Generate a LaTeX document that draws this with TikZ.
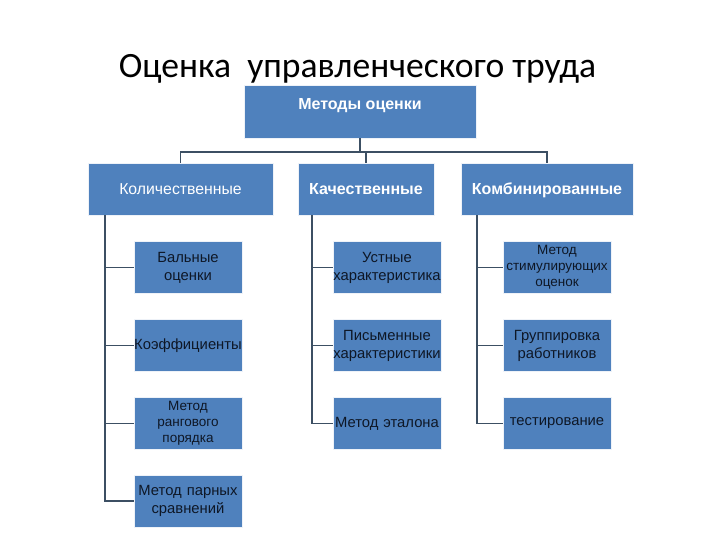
\documentclass[tikz,border=0pt]{standalone}
\usepackage{fontspec}
\setmainfont{Liberation Sans}
\newfontfamily\titlefont{Carlito}
\usetikzlibrary{positioning,calc}
\definecolor{cBoxF}{HTML}{4F81BD}
\definecolor{cBoxL}{HTML}{EEF2F8}
\definecolor{cWire}{HTML}{3C4F63}
\definecolor{cItemT}{HTML}{0E1726}
\tikzset{
  mbox/.style={rectangle,fill=cBoxF,draw=cBoxL,line width=0.4pt,inner sep=0pt,
      align=center},
  mtop/.style={mbox,minimum width=232pt,minimum height=53pt},
  mtoptxt/.style={font=\bfseries\fontsize{16}{18}\selectfont,text=white,inner sep=0pt},
  mcat/.style={mbox,minimum height=52pt,text depth=0pt,text=white,
      font=\fontsize{15.8}{18}\selectfont},
  mcatb/.style={mcat,font=\bfseries\fontsize{16}{18}\selectfont},
  mitem/.style={mbox,minimum width=108pt,minimum height=52pt,text width=108pt,
      text=cItemT,font=\fontsize{14.8}{18}\selectfont},
  mitems/.style={mitem,font=\fontsize{13.5}{16}\selectfont},
  mwire/.style={draw=cWire,line width=1.8pt},
  mtitle/.style={font=\titlefont\fontsize{35.6}{40}\selectfont,text=black,
      inner sep=0pt,anchor=base},
}
\begin{document}
\begin{tikzpicture}[x=1pt,y=-1pt]
  \fill[white] (0,0) rectangle (720,540);
  \useasboundingbox (0,0) rectangle (720,540);

  \node[mtitle] (title) at (357.5,78) {Оценка\ \ управленческого труда};

  % top and categories
  \node[mtop,label={[mtoptxt,yshift=6pt]center:Методы оценки}] (top) at (360,111.5) {};
  \node[mcat,minimum width=185pt] (kol) at (180.5,189) {Количественные};
  \node[mcatb,minimum width=136pt] (kach) at (366,189) {Качественные};
  \node[mcatb,minimum width=172pt] (komb) at (547,189) {Комбинированные};

  % quantitative
  \node[mitem] (bal) at (188,267.5) {Бальные\\оценки};
  \node[mitem] (koef) at (188,345.5) {Коэффициенты};
  \node[mitems] (rang) at (188,423.5) {Метод\\рангового\\порядка};
  \node[mitem] (par) at (188,501) {Метод парных\\сравнений};

  % qualitative
  \node[mitem] (ust) at (387,267.5) {Устные\\характеристика};
  \node[mitem] (pis) at (387,345.5) {Письменные\\характеристики};
  \node[mitem] (etal) at (387,423.5) {Метод эталона};

  % combined
  \node[mitems] (stim) at (557,267.5) {Метод\\стимулирующих\\оценок};
  \node[mitem] (grup) at (557,345.5) {Группировка\\работников};
  \node[mitem] (test) at (557,423.5) {тестирование};

  \coordinate (bus) at ($(top.south)+(0,14)$);
  \coordinate (kolrail) at ([xshift=17pt]kol.south west);
  \coordinate (kachrail) at ([xshift=14pt]kach.south west);
  \coordinate (kombrail) at ([xshift=16pt]komb.south west);

  \draw[mwire] (top.south) -- (bus);
  \draw[mwire] (bus) -| (kol.north);
  \draw[mwire] (bus) -| (kach.north);
  \draw[mwire] (bus) -| (komb.north);

  \draw[mwire] (kolrail) |- (bal.west);
  \draw[mwire] (kolrail) |- (koef.west);
  \draw[mwire] (kolrail) |- (rang.west);
  \draw[mwire] (kolrail) |- (par.west);

  \draw[mwire] (kachrail) |- (ust.west);
  \draw[mwire] (kachrail) |- (pis.west);
  \draw[mwire] (kachrail) |- (etal.west);

  \draw[mwire] (kombrail) |- (stim.west);
  \draw[mwire] (kombrail) |- (grup.west);
  \draw[mwire] (kombrail) |- (test.west);
\end{tikzpicture}
\end{document}
